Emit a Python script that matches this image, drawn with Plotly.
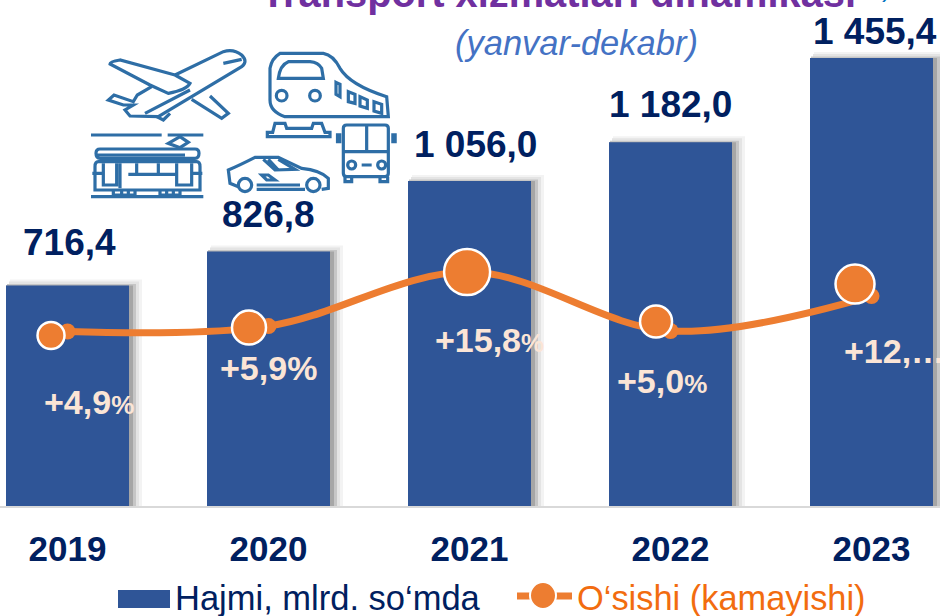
import re
import plotly.graph_objects as go

years = [2019, 2020, 2021, 2022, 2023]
volume = [716.4, 826.8, 1056.0, 1182.0, 1455.4]
volume_labels = ["716,4", "826,8", "1 056,0", "1 182,0", "1 455,4"]
growth = [4.9, 5.9, 15.8, 5.0, 11.4]
growth_labels = ["+4,9", "+5,9", "+15,8", "+5,0", "+12,…"]
growth_suffix_sizes = [26, 34, 26, 26, 0]

# overlay dots sit slightly off the line points in the source picture
dot_dx = [-0.082, -0.097, -0.012, -0.072, -0.082]
dot_dy = [-0.73, -0.28, 0.0, 1.74, 2.2]
dot_sizes = [27, 34, 46, 32, 39]

label_shift_x = [2, 0, 6, 0, 3]
label_shift_y = [20, 15, 14, 15, 4]
pct_x = [42, 218, 433, 615, 842]
pct_y = [402, 368, 340, 381, 351]

W, H, BASE = 940, 616, 506
PX_PER_YEAR = 201.0
PX_PER_UNIT = 0.3078
X_RANGE = [2019 - 67.5 / PX_PER_YEAR, 2019 + (W - 67.5) / PX_PER_YEAR]
Y_RANGE = [0, BASE / PX_PER_UNIT]
Y2_RANGE = [-27.1, 65.7]

FONT = "Liberation Sans"
BLUE = "#2F5597"
ORANGE = "#ED7D31"
NAVY = "#002060"
ICON = "#2E6EA6"


def px(x):
    return x / W


def py(y):
    return 1 - y / BASE


fig = go.Figure()

# soft bar shadow: light to dark layers behind each bar
for right, top, left, color in [(13, 6, -4, "#F3F3F3"), (10, 4, -3, "#E4E4E4"), (7, 1.5, -1, "#C6C6C6"), (4, 0, 0, "#A6A6A6")]:
    fig.add_bar(
        x=years,
        y=[v + top / PX_PER_UNIT for v in volume],
        width=(123 + right + left) / PX_PER_YEAR,
        offset=(-61.5 - left) / PX_PER_YEAR,
        marker=dict(color=color, line=dict(width=0)),
        hoverinfo="skip",
    )

fig.add_bar(
    x=years,
    y=volume,
    width=123 / PX_PER_YEAR,
    offset=-61.5 / PX_PER_YEAR,
    name="Hajmi, mlrd. so‘mda",
    marker=dict(color=BLUE, line=dict(width=0)),
)

fig.add_scatter(
    x=years,
    y=growth,
    yaxis="y2",
    name="O‘sishi (kamayishi)",
    mode="lines+markers",
    line=dict(color=ORANGE, width=7, shape="spline", smoothing=1.0),
    marker=dict(color=ORANGE, size=16),
)
fig.add_scatter(
    x=[y + d for y, d in zip(years, dot_dx)],
    y=[g + d for g, d in zip(growth, dot_dy)],
    yaxis="y2",
    mode="markers",
    marker=dict(color=ORANGE, size=dot_sizes, opacity=1, line=dict(color="#FFFFFF", width=2.5)),
    hoverinfo="skip",
)

annotations = []


def note(text, x, y, size, color, anchor="left", bold=False, italic=False):
    annotations.append(dict(
        text=text, x=px(x), y=py(y), xref="paper", yref="paper",
        xanchor=anchor, yanchor="middle", showarrow=False,
        font=dict(family=FONT, size=size, color=color,
                  weight="bold" if bold else "normal",
                  style="italic" if italic else "normal"),
    ))


for yr, v, t, sx, sy in zip(years, volume, volume_labels, label_shift_x, label_shift_y):
    annotations.append(dict(
        text=t, x=yr, y=v, xref="x", yref="y", xanchor="center", yanchor="bottom",
        xshift=sx, yshift=sy, showarrow=False,
        font=dict(family=FONT, size=37, color=NAVY, weight="bold"),
    ))

for t, fs, x, y in zip(growth_labels, growth_suffix_sizes, pct_x, pct_y):
    suffix = f'<span style="font-size:{fs}px">%</span>' if fs else ""
    note(t + suffix, x, y, 34, "#FBE5D6", bold=True)

note("Transport xizmatlari dinamikasi", 259, -7, 39.8, "#7030A0", bold=True)
note(")", 880, -12, 26, "#0070C0")
note("(yanvar-dekabr)", 576, 43, 34.5, "#4472C4", anchor="center", italic=True)
note("Hajmi, mlrd. so‘mda", 173, 598, 34.5, NAVY)
note("O‘sishi (kamayishi)", 575, 598, 34.4, "#F26C0F")

shapes = []


def icon(path, ox, oy, width=3.2):
    def conv(m):
        x = ox + float(m.group(1)) / 3
        y = oy + float(m.group(2)) / 3
        return f"{px(x):.5f},{py(y):.5f}"
    shapes.append(dict(type="path", xref="paper", yref="paper",
                       path=re.sub(r"(-?[\d.]+),(-?[\d.]+)", conv, path),
                       line=dict(color=ICON, width=width), layer="above"))


def ring(cx, cy, r, ox, oy, width=3.2):
    shapes.append(dict(type="circle", xref="paper", yref="paper",
                       x0=px(ox + (cx - r) / 3), x1=px(ox + (cx + r) / 3),
                       y0=py(oy + (cy - r) / 3), y1=py(oy + (cy + r) / 3),
                       line=dict(color=ICON, width=width), layer="above"))


# plane
for p in [
    "M225,105 L370,35 Q400,25 425,45 Q445,65 425,80 L175,230 L90,228 L75,210 L100,195 L70,195 L25,180 L42,165 L100,185 L112,165 L155,140",
    "M225,105 L60,60 Q30,65 30,72 L150,135 L205,160 Q260,150 270,130 L225,105",
    "M135,220 L270,150 M370,70 L425,58",
    "M275,178 L365,235 L385,220 L330,168",
    "M170,230 L190,240 L210,220",
]:
    icon(p, 100, 40)

# train
for p in [
    "M60,25 L190,25 Q220,30 240,70 Q270,120 380,155 L385,215 L75,215 Q30,200 30,165 L30,70 Q35,40 60,25 Z",
    "M55,100 L190,100 L185,70 Q175,52 150,50 L85,50 Q60,60 55,100 Z",
    "M228,112 L240,118 L240,155 L228,148 Z",
    "M265,140 L285,148 L285,175 L265,170 Z",
    "M300,155 L322,165 L322,190 L300,183 Z",
    "M342,170 L365,178 L365,205 L342,198 Z",
    "M45,235 L75,235 L80,250 L155,250 L160,235 L185,235 L195,262 L210,262 L210,275 L22,275 L22,262 L38,262 Z",
]:
    icon(p, 260, 45)
ring(65, 152, 16, 260, 45)
ring(165, 152, 16, 260, 45)

# bus
for p in [
    "M260,240 L375,240 Q385,240 385,250 L385,385 Q385,395 375,395 L260,395 Q250,395 250,385 L250,250 Q250,240 260,240 Z",
    "M320,240 L320,320 M250,320 L385,320 M305,360 L335,360",
    "M255,395 L255,410 L275,410 L275,395 M360,395 L360,410 L383,410 L383,395",
]:
    icon(p, 260, 45)
icon("M236,265 L236,295 M402,265 L402,295", 260, 45, 5.5)
ring(275, 360, 12, 260, 45)
ring(365, 360, 12, 260, 45)

# car
for p in [
    "M55,110 L30,100 L25,60 Q60,45 105,22 L175,22 L245,55 Q300,60 325,85 L325,115 L305,118 M255,118 L110,118",
    "M130,28 L165,60 L225,58 L175,28 M145,28 L175,60",
    "M125,75 L145,75 L165,90 L140,90 Z M110,105 L240,105",
]:
    icon(p, 220, 150)
ring(75, 105, 20, 220, 150)
ring(280, 105, 20, 220, 150)

# tram
for p in [
    "M18,30 L230,30 M248,30 L355,30",
    "M285,35 L310,52 L285,68 L250,55 Z",
    "M45,72 L330,72 Q342,72 342,85 Q342,100 330,100 L45,100 Q33,100 33,85 Q33,72 45,72 Z M35,90 L300,90",
    "M40,110 L335,110 Q345,110 345,125 L345,195 L30,195 L30,125 Q30,110 40,110 Z",
    "M55,115 L55,180 L95,180 L95,115 M105,115 L105,190 M275,115 L275,180 L320,180 L320,115",
    "M155,115 L155,148 M220,115 L220,148 M130,148 L275,148 M22,145 L55,145 M320,145 L352,145",
    "M85,197 L85,210 L150,210 L150,197 M225,197 L225,210 L285,210 L285,197 M110,197 L110,210 M130,197 L130,210 M245,197 L245,210 M265,197 L265,210",
    "M18,215 L355,215",
]:
    icon(p, 85, 125)

# legend marks
shapes.append(dict(type="rect", xref="paper", yref="paper",
                   x0=px(118), x1=px(170), y0=py(590), y1=py(608),
                   fillcolor=BLUE, line=dict(width=0), layer="above"))
shapes.append(dict(type="line", xref="paper", yref="paper",
                   x0=px(517), x1=px(572), y0=py(596), y1=py(596),
                   line=dict(color=ORANGE, width=7), layer="above"))
shapes.append(dict(type="circle", xref="paper", yref="paper",
                   x0=px(530), x1=px(556), y0=py(582), y1=py(609),
                   fillcolor=ORANGE, line=dict(color="#FFFFFF", width=2), layer="above"))

fig.update_layout(
    width=W, height=H,
    margin=dict(l=0, r=0, t=0, b=H - BASE, pad=0),
    paper_bgcolor="#FFFFFF", plot_bgcolor="#FFFFFF",
    barmode="overlay", showlegend=False,
    xaxis=dict(range=X_RANGE, tickmode="array", tickvals=years, ticktext=[str(y) for y in years],
               ticks="outside", ticklen=11, tickcolor="rgba(0,0,0,0)",
               tickfont=dict(family=FONT, size=35, color=NAVY, weight="bold"),
               showgrid=False, zeroline=False, showline=True, linecolor="#D9D9D9", linewidth=2),
    yaxis=dict(range=Y_RANGE, visible=False, showgrid=False, zeroline=False),
    yaxis2=dict(range=Y2_RANGE, visible=False, overlaying="y", showgrid=False, zeroline=False),
    annotations=annotations,
    shapes=shapes,
)

fig.write_html("out.html", config={"displayModeBar": False},
               post_script="document.body.style.margin='0';document.body.style.overflow='hidden';")
